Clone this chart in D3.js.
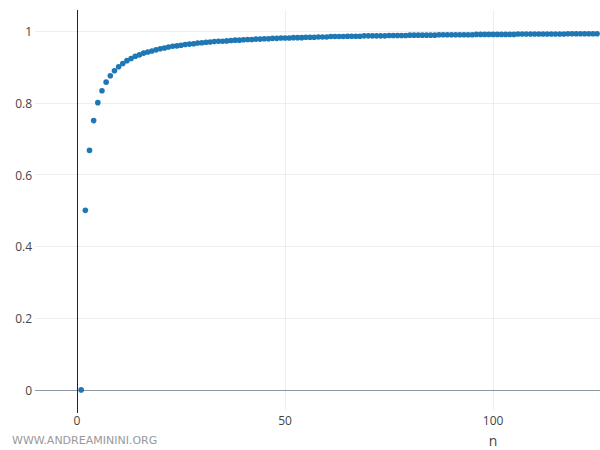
<!DOCTYPE html>
<html>
<head>
<meta charset="utf-8">
<script src="https://cdn.jsdelivr.net/npm/d3@7"></script>
<style>
  html, body { margin: 0; padding: 0; background: #fff; overflow: hidden; }
  svg { display: block; font-family: "Open Sans", sans-serif; }
</style>
</head>
<body>
<div id="chart"></div>
<script>
// a_n values for n = 1, 2, 3, ...
const firstN = 1;
const values = [
  0, 0.5, 0.667, 0.75, 0.8, 0.833, 0.857, 0.875, 0.889, 0.9,
  0.909, 0.917, 0.923, 0.929, 0.933, 0.938, 0.941, 0.944, 0.947, 0.95,
  0.952, 0.955, 0.957, 0.958, 0.96, 0.962, 0.963, 0.964, 0.966, 0.967,
  0.968, 0.969, 0.97, 0.971, 0.971, 0.972, 0.973, 0.974, 0.974, 0.975,
  0.976, 0.976, 0.977, 0.977, 0.978, 0.978, 0.979, 0.979, 0.98, 0.98,
  0.98, 0.981, 0.981, 0.981, 0.982, 0.982, 0.982, 0.983, 0.983, 0.983,
  0.984, 0.984, 0.984, 0.984, 0.985, 0.985, 0.985, 0.985, 0.986, 0.986,
  0.986, 0.986, 0.986, 0.986, 0.987, 0.987, 0.987, 0.987, 0.987, 0.988,
  0.988, 0.988, 0.988, 0.988, 0.988, 0.988, 0.989, 0.989, 0.989, 0.989,
  0.989, 0.989, 0.989, 0.989, 0.989, 0.99, 0.99, 0.99, 0.99, 0.99,
  0.99, 0.99, 0.99, 0.99, 0.99, 0.991, 0.991, 0.991, 0.991, 0.991,
  0.991, 0.991, 0.991, 0.991, 0.991, 0.991, 0.991, 0.992, 0.992, 0.992,
  0.992, 0.992, 0.992, 0.992, 0.992,
];
const xTicks = [0, 50, 100];
const yTicks = [0, 0.2, 0.4, 0.6, 0.8, 1];
const xTitle = 'n';
const watermark = 'WWW.ANDREAMININI.ORG';

const width = 600;
const height = 450;
const plot = { left: 35, right: 600, top: 10, bottom: 410 };

const points = values.map((v, i) => ({ n: firstN + i, v }));

const x = d3.scaleLinear().domain([-10.1, 125.7]).range([plot.left, plot.right]);
const y = d3.scaleLinear().domain([-0.056, 1.058]).range([plot.bottom, plot.top]);

const svg = d3.select('#chart').append('svg')
  .attr('width', width)
  .attr('height', height);

// grid
svg.append('g')
  .selectAll('line')
  .data(yTicks.filter((d) => d !== 0))
  .join('line')
  .attr('x1', plot.left)
  .attr('x2', plot.right)
  .attr('y1', (d) => Math.round(y(d)) + 0.5)
  .attr('y2', (d) => Math.round(y(d)) + 0.5)
  .attr('stroke', '#eee');

svg.append('g')
  .selectAll('line')
  .data(xTicks.filter((d) => d !== 0))
  .join('line')
  .attr('x1', (d) => Math.round(x(d)) + 0.5)
  .attr('x2', (d) => Math.round(x(d)) + 0.5)
  .attr('y1', plot.top)
  .attr('y2', plot.bottom)
  .attr('stroke', '#eee');

// zero lines
svg.append('line')
  .attr('x1', plot.left)
  .attr('x2', plot.right)
  .attr('y1', Math.round(y(0)) + 0.5)
  .attr('y2', Math.round(y(0)) + 0.5)
  .attr('stroke', '#8a96a3');

svg.append('line')
  .attr('x1', Math.round(x(0)) + 0.5)
  .attr('x2', Math.round(x(0)) + 0.5)
  .attr('y1', plot.top)
  .attr('y2', plot.bottom + 3)
  .attr('stroke', '#222');

// tick labels
svg.append('g')
  .selectAll('text')
  .data(yTicks)
  .join('text')
  .attr('x', plot.left - 3)
  .attr('y', (d) => y(d) + 1)
  .attr('dy', '0.35em')
  .attr('text-anchor', 'end')
  .attr('font-size', 12)
  .attr('fill', '#444')
  .text((d) => d3.format('~g')(d));

svg.append('g')
  .selectAll('text')
  .data(xTicks)
  .join('text')
  .attr('x', (d) => x(d))
  .attr('y', plot.bottom + 15)
  .attr('text-anchor', 'middle')
  .attr('font-size', 12)
  .attr('fill', '#444')
  .text((d) => d);

svg.append('text')
  .attr('x', x(100))
  .attr('y', 446)
  .attr('text-anchor', 'middle')
  .attr('font-size', 14)
  .attr('fill', '#444')
  .text(xTitle);

svg.append('text')
  .attr('x', 12)
  .attr('y', 444)
  .attr('font-family', 'DejaVu Sans, sans-serif')
  .attr('font-size', 11)
  .attr('fill', '#999')
  .text(watermark);

// points
svg.append('g')
  .selectAll('circle')
  .data(points)
  .join('circle')
  .attr('cx', (d) => x(d.n))
  .attr('cy', (d) => y(d.v))
  .attr('r', 2.8)
  .attr('fill', '#1f77b4');
</script>
</body>
</html>
